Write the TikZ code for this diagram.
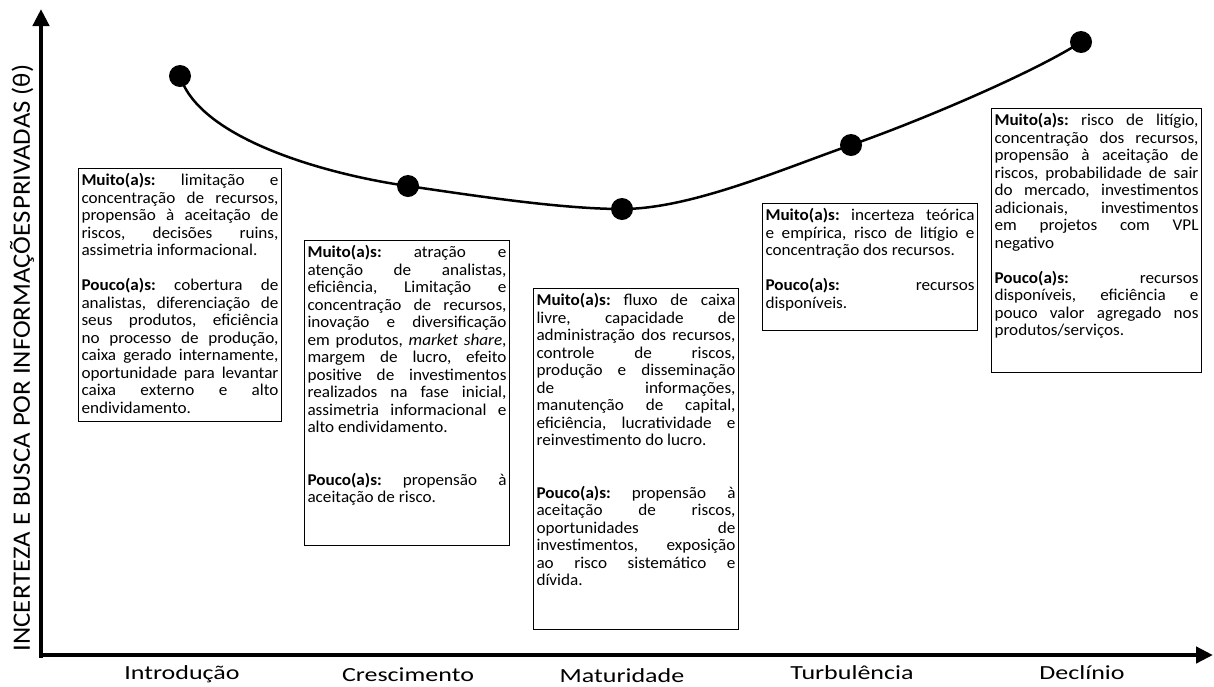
\documentclass[tikz,border=0pt]{standalone}
\usepackage{fontspec}
\setmainfont{Carlito}
\newfontfamily\boxfont{Carlito}[FakeStretch=1.04]
\newfontfamily\axisfont{Carlito}[FakeStretch=1.3]
\newfontfamily\ylabfont{Carlito}[FakeStretch=1.07]
\usetikzlibrary{arrows.meta}
\newcommand\JL[1]{\hbox to \hsize{#1}}
\newcommand\LL[1]{\hbox{#1}}
\newcommand\BL{\vskip 17.5pt}
\newcommand\Mu{\textbf{Muito(a)s:}}
\newcommand\Po{\textbf{Pouco(a)s:}}
\newcommand\TB[3]{\begin{minipage}[t][#2][t]{#1}\frenchspacing #3\end{minipage}}
\tikzset{
  txtbox/.style={draw, line width=1pt, inner xsep=3pt, inner ysep=5pt, anchor=north west,
    font=\boxfont\fontsize{16.5}{17.5}\selectfont},
  axisline/.style={line width=4.5pt, -{Triangle[width=16pt,length=17pt]}},
  curveline/.style={line width=2.5pt},
  dot/.style={circle, fill=black, minimum size=22pt, inner sep=0pt},
  xlab/.style={anchor=base, font=\axisfont\fontsize{20}{24}\selectfont},
  ylab/.style={rotate=90, font=\ylabfont\fontsize{25}{30}\selectfont}
}
\begin{document}
\begin{tikzpicture}[x=1pt,y=-1pt]
\useasboundingbox (0,0) rectangle (1214,686);
% axes
\coordinate (ybot) at (41,657.5);
\coordinate (ytip) at (41,9);
\coordinate (xleft) at (38.75,655);
\coordinate (xtip) at (1213,655);
\draw[axisline] (ybot) -- (ytip);
\draw[axisline] (xleft) -- (xtip);
% curve
\coordinate (c1) at (180,76);
\coordinate (c2) at (408,186);
\coordinate (c3) at (622,209);
\coordinate (c4) at (851,145);
\coordinate (c5) at (1081,42);
\draw[curveline] (c1) .. controls (200,140) and (330,175) .. (c2)
  .. controls (470,195) and (560,209) .. (c3)
  .. controls (690,209) and (780,170) .. (c4)
  .. controls (920,121) and (1035,72) .. (c5);
\node[dot] (d1) at (c1) {};
\node[dot] (d2) at (c2) {};
\node[dot] (d3) at (c3) {};
\node[dot] (d4) at (c4) {};
\node[dot] (d5) at (c5) {};
% boxes
\node[txtbox] (b1) at (78,168) {\TB{197pt}{243pt}{%
\JL{\Mu{} limitação e}
\JL{concentração de recursos,}
\JL{propensão à aceitação de}
\JL{riscos, decisões ruins,}
\LL{assimetria informacional.}
\BL
\JL{\Po{} cobertura de}
\JL{analistas, diferenciação de}
\JL{seus produtos, eficiência}
\JL{no processo de produção,}
\JL{caixa gerado internamente,}
\JL{oportunidade para levantar}
\JL{caixa externo e alto}
\LL{endividamento.}}};
\node[txtbox] (b2) at (304,240) {\TB{199pt}{295pt}{%
\JL{\Mu{} atração e}
\JL{atenção de analistas,}
\JL{eficiência, Limitação e}
\JL{concentração de recursos,}
\JL{inovação e diversificação}
\JL{em produtos, \textit{market share},}
\JL{margem de lucro, efeito}
\JL{positive de investimentos}
\JL{realizados na fase inicial,}
\JL{assimetria informacional e}
\LL{alto endividamento.}
\BL\BL
\JL{\Po{} propensão à}
\LL{aceitação de risco.}}};
\node[txtbox] (b3) at (533,288) {\TB{199pt}{331pt}{%
\JL{\Mu{} fluxo de caixa}
\JL{livre, capacidade de}
\JL{administração dos recursos,}
\JL{controle de riscos,}
\JL{produção e disseminação}
\JL{de informações,}
\JL{manutenção de capital,}
\JL{eficiência, lucratividade e}
\LL{reinvestimento do lucro.}
\BL\BL
\JL{\Po{} propensão à}
\JL{aceitação de riscos,}
\JL{oportunidades de}
\JL{investimentos, exposição}
\JL{ao risco sistemático e}
\LL{dívida.}}};
\node[txtbox] (b4) at (762,203) {\TB{209pt}{117pt}{%
\JL{\Mu{} incerteza teórica}
\JL{e empírica, risco de litígio e}
\LL{concentração dos recursos.}
\BL
\JL{\Po{} recursos}
\LL{disponíveis.}}};
\node[txtbox] (b5) at (991,108) {\TB{204pt}{254pt}{%
\JL{\Mu{} risco de litígio,}
\JL{concentração dos recursos,}
\JL{propensão à aceitação de}
\JL{riscos, probabilidade de sair}
\JL{do mercado, investimentos}
\JL{adicionais, investimentos}
\JL{em projetos com VPL}
\LL{negativo}
\BL
\JL{\Po{} recursos}
\JL{disponíveis, eficiência e}
\JL{pouco valor agregado nos}
\LL{produtos/serviços.}}};
% axis labels
\node[xlab] (l1) at (182,679) {Introdução};
\node[xlab] (l2) at (408,681) {Crescimento};
\node[xlab] (l3) at (622,682.5) {Maturidade};
\node[xlab] (l4) at (852,679) {Turbulência};
\node[xlab] (l5) at (1082,679) {Declínio};
\node[ylab] (yl) at (22,358) {INCERTEZA E BUSCA POR INFORMAÇÕES\hspace{0.08em}PRIVADAS (θ)};
\end{tikzpicture}
\end{document}
